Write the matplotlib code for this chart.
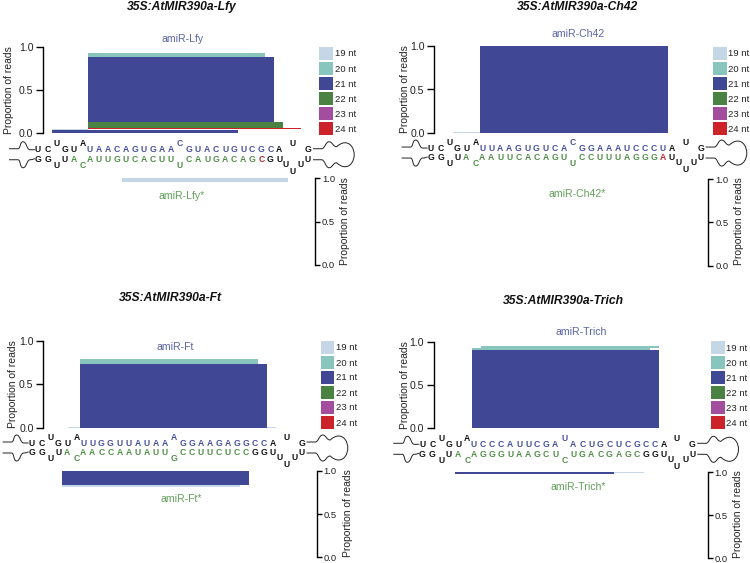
# sirna_profiles.py

import matplotlib
matplotlib.use("Agg")
import matplotlib.pyplot as plt
from matplotlib.patches import Rectangle, PathPatch
from matplotlib.path import Path

plt.rcParams["font.family"] = ["Liberation Sans", "DejaVu Sans"]

W, H = 750, 563
NT_PX = 9.03

SIZES = [19, 20, 21, 22, 23, 24]
SIZE_COLORS = {19: "#c5d6e6", 20: "#88c5bc", 21: "#404896",
               22: "#4a8243", 23: "#a24d9e", 24: "#cc2229"}
TICKS = [0.0, 0.5, 1.0]

BLUE_TXT = "#5a65a8"
GREEN_TXT = "#62a05a"
STEM_BLUE = "#464f9c"
STEM_GREEN = "#4f8f45"
RED_TXT = "#b8252b"

# start position, span in nt, size class, base of stack, proportion of reads
lfy_top_start = [-4, -4, 0, 0, 0, 0, 2.8]
lfy_top_span = [20.6, 4, 23.6, 21.6, 20.6, 19.6, 18]
lfy_top_nt = [21, 19, 24, 22, 21, 20, 19]
lfy_top_base = [0, 0.04, 0.05, 0.06, 0.13, 0.88, 0.925]
lfy_top_prop = [0.04, 0.006, 0.008, 0.07, 0.75, 0.045, 0.008]
lfy_low_start = [3.8]
lfy_low_span = [18.4]
lfy_low_nt = [19]
lfy_low_base = [0]
lfy_low_prop = [0.038]

ch42_top_start = [-3, 0, 20.9]
ch42_top_span = [3, 20.9, 4.8]
ch42_top_nt = [19, 21, 24]
ch42_top_base = [0, 0, 0.998]
ch42_top_prop = [0.003, 1.0, 0.002]
ch42_low_start = [-2]
ch42_low_span = [24.2]
ch42_low_nt = [19]
ch42_low_base = [0]
ch42_low_prop = [0.005]

ft_top_start = [-1.3, 0, 0, 0, 20.7]
ft_top_span = [1.3, 20.7, 19.7, 18.8, 1]
ft_top_nt = [19, 21, 20, 19, 19]
ft_top_base = [0, 0, 0.735, 0.79, 0]
ft_top_prop = [0.006, 0.735, 0.055, 0.008, 0.004]
ft_low_start = [-2, -2, -4.9, 18.7]
ft_low_span = [20.7, 19.7, 2.9, 4]
ft_low_nt = [21, 19, 19, 19]
ft_low_base = [0, 0.16, 0.17, 0]
ft_low_prop = [0.16, 0.03, 0.005, 0.005]

trich_top_start = [-1.9, 0, 0, 1, 20.7]
trich_top_span = [1.9, 20.7, 19.7, 19.7, 3]
trich_top_nt = [19, 21, 20, 20, 19]
trich_top_base = [0, 0, 0.904, 0.93, 0.95]
trich_top_prop = [0.004, 0.904, 0.026, 0.025, 0.004]
trich_low_start = [-1.9, 15.7, -5.3]
trich_low_span = [17.6, 3.3, 3.4]
trich_low_nt = [21, 19, 19]
trich_low_base = [0, 0, 0.02]
trich_low_prop = [0.025, 0.005, 0.005]

# hairpin strands, index 10 is the bulge
lfy_upper = "UAACAGUGAACGUACUGUCGCA"
lfy_lower = "AUUGUCACUUUCAUGACAGCGU"
ch42_upper = "UUAAGUGUCACGGAAAUCCCUA"
ch42_lower = "AAUUCACAGUUCCUUUAGGGAU"
ft_upper = "UUGGUUAUAAAGGAAGAGGCCA"
ft_lower = "AACCAAUAUUGCCUUCUCCGGU"
trich_upper = "UCCCAUUCGAUACUGCUCGCCA"
trich_lower = "AGGGUAAGCUCUGACGAGCGGU"

fig = plt.figure(figsize=(W / 100, H / 100), dpi=100)

canvas = fig.add_axes([0, 0, 1, 1])
canvas.set_xlim(0, W)
canvas.set_ylim(H, 0)
canvas.axis("off")


def px_axes(left, top, right, bottom):
    ax = fig.add_axes([left / W, 1 - bottom / H, (right - left) / W, (bottom - top) / H])
    ax.patch.set_visible(False)
    return ax


def style_axis(ax, label_side):
    for name in ["top", "right", "bottom", "left"]:
        ax.spines[name].set_visible(name == "left")
    ax.spines["left"].set_linewidth(1.0)
    ax.set_xticks([])
    ax.set_ylim(0, 1)
    ax.set_yticks(TICKS)
    ax.set_yticklabels([f"{t:.1f}" for t in TICKS])
    if label_side == "left":
        ax.tick_params(axis="y", direction="out", length=5, width=1.0, pad=2,
                       labelsize=7.6, labelcolor="#222222")
    else:
        ax.tick_params(axis="y", direction="in", length=3.5, width=1.0, pad=-5,
                       labelsize=6.8, labelcolor="#222222")
        for lab in ax.get_yticklabels():
            lab.set_horizontalalignment("left")


def draw_hairpin(x0, y_mid):
    left_top = [(-80.7, -6), (-71.7, -6), (-69, -6), (-70, -13), (-66.7, -13),
                (-63, -13), (-63, -5), (-59.7, -5), (-57, -5), (-56, -5), (-54.7, -5)]
    left_low = [(-80.7, 5), (-71.7, 5), (-69, 5), (-70, 13), (-66.7, 13),
                (-63, 13), (-63, 5), (-59.7, 5), (-57, 5), (-56, 4), (-54.7, 4)]
    right_top = [(223.3, -6), (232, -6), (235, -6), (236, -13), (239.3, -13),
                 (243, -13), (243, -8), (247, -8), (249, -10), (252, -12), (255.3, -12),
                 (261, -12), (264.5, -6), (264.5, 0), (264.5, 6), (261, 12), (255.3, 12),
                 (252, 12), (249, 10), (247, 8), (243, 8), (243, 13), (239.3, 13),
                 (236, 13), (235, 5), (232, 5), (223.3, 5)]
    for pts in [left_top, left_low]:
        codes = [Path.MOVETO, Path.LINETO] + [Path.CURVE4] * 9
        verts = [(x0 + a, y_mid + b) for a, b in pts]
        canvas.add_patch(PathPatch(Path(verts, codes), fill=False, lw=0.7, ec="#222222"))
    codes = [Path.MOVETO, Path.LINETO] + [Path.CURVE4] * 24 + [Path.LINETO]
    verts = [(x0 + a, y_mid + b) for a, b in right_top]
    canvas.add_patch(PathPatch(Path(verts, codes), fill=False, lw=0.7, ec="#222222"))


def seq_letter(x, y, ch, color):
    canvas.text(x, y, ch, color=color, fontsize=6.2, fontweight="bold",
                ha="center", va="center")


def draw_sequence(x0, y_up, y_low, upper, lower, last_green, red_at):
    up_flank = [(-51.7, 0, "U"), (-41.7, 0, "C"), (-32.7, -6, "U"), (-25, 0, "G"),
                (-15.7, 0, "U"), (-6.7, -6, "A"), (203, -6, "U"), (218.3, 0, "G")]
    low_flank = [(-51.7, 0, "G"), (-41.7, 0, "G"), (-32.7, 6, "U"), (-25, 0, "U"),
                 (196.3, 5, "U"), (203, 12, "U"), (211.3, 5, "U"), (218.3, 0, "U")]
    for dx, dy, ch in up_flank:
        seq_letter(x0 + dx, y_up + dy, ch, "#111111")
    for dx, dy, ch in low_flank:
        seq_letter(x0 + dx, y_low + dy, ch, "#111111")
    seq_letter(x0 - 16, y_low, "A", STEM_GREEN)
    seq_letter(x0 - 6.7, y_low + 6, "C", STEM_GREEN)

    for i, ch in enumerate(upper):
        color = "#111111" if i == 21 else STEM_BLUE
        seq_letter(x0 + i * NT_PX, y_up - (6 if i == 10 else 0), ch, color)
    for i, ch in enumerate(lower):
        color = STEM_GREEN if i <= last_green else "#111111"
        if i == red_at:
            color = RED_TXT
        seq_letter(x0 + i * NT_PX, y_low + (6 if i == 10 else 0), ch, color)


def draw_legend(x_sw, x_txt, tops):
    for nt, top in zip(SIZES, tops):
        canvas.add_patch(Rectangle((x_sw, top), 13.5, 13, fc=SIZE_COLORS[nt], ec="none"))
        canvas.text(x_txt, top + 7.3, f"{nt} nt", fontsize=6.8, color="#222222",
                    ha="left", va="center")


def draw_panel(title, title_x, title_y, name, name_x, name_y, star_x, star_y,
               spine_top, y_up, y_low, edge, x0,
               top_data, low_data, upper, lower, last_green, red_at,
               legend_x, legend_txt, legend_tops, ylab_x, low_ylab_x):
    top_ax = px_axes(spine_top[0], spine_top[1], spine_top[0] + 280, spine_top[2])
    style_axis(top_ax, "left")
    top_ax.set_xlim((spine_top[0] - edge) / NT_PX, (spine_top[0] + 280 - edge) / NT_PX)
    start, span, nts, base, prop = top_data
    for s, w, nt, b, p in zip(start, span, nts, base, prop):
        top_ax.bar(s, p, width=w, bottom=b, align="edge", color=SIZE_COLORS[nt],
                   linewidth=0, clip_on=False)

    low_ax = px_axes(spine_top[3], spine_top[4], spine_top[3] + 30, spine_top[5])
    style_axis(low_ax, "right")
    low_ax.set_xlim((spine_top[3] - edge) / NT_PX, (spine_top[3] + 30 - edge) / NT_PX)
    start, span, nts, base, prop = low_data
    for s, w, nt, b, p in zip(start, span, nts, base, prop):
        low_ax.bar(s, -p, width=w, bottom=1 - b, align="edge", color=SIZE_COLORS[nt],
                   linewidth=0, clip_on=False)

    canvas.text(title_x, title_y, title, fontsize=8.7, fontweight="bold", style="italic",
                ha="center", va="center", color="#111111")
    canvas.text(name_x, name_y, name, fontsize=7.6, color=BLUE_TXT, ha="center", va="center")
    canvas.text(star_x, star_y, name + "*", fontsize=7.6, color=GREEN_TXT,
                ha="center", va="center")
    canvas.text(ylab_x, (spine_top[1] + spine_top[2]) / 2, "Proportion of reads", fontsize=7.45,
                rotation=90, ha="center", va="center", color="#222222")
    canvas.text(low_ylab_x, (spine_top[4] + spine_top[5]) / 2 - 1, "Proportion of reads",
                fontsize=7.45, rotation=90, ha="center", va="center", color="#222222")

    draw_hairpin(x0, (y_up + y_low) / 2)
    draw_sequence(x0, y_up, y_low, upper, lower, last_green, red_at)
    draw_legend(legend_x, legend_txt, legend_tops)


draw_panel("35S:AtMIR390a-Lfy", 182, 7, "amiR-Lfy", 183, 38.7, 182, 195.7,
           (43, 46.7, 133.3, 315, 178.3, 265), 150, 159.5, 88, 89.7,
           (lfy_top_start, lfy_top_span, lfy_top_nt, lfy_top_base, lfy_top_prop),
           (lfy_low_start, lfy_low_span, lfy_low_nt, lfy_low_base, lfy_low_prop),
           lfy_upper, lfy_lower, 18, 19,
           319, 335, [46.7, 62, 77, 92, 107, 122], 9.5, 345)

draw_panel("35S:AtMIR390a-Ch42", 578, 7, "amiR-Ch42", 577.7, 34, 576.7, 194,
           (434.3, 46.3, 132.7, 708.3, 179, 265.7), 148.3, 157.8, 479.7, 482.3,
           (ch42_top_start, ch42_top_span, ch42_top_nt, ch42_top_base, ch42_top_prop),
           (ch42_low_start, ch42_low_span, ch42_low_nt, ch42_low_base, ch42_low_prop),
           ch42_upper, ch42_lower, 19, 20,
           713, 728, [46.7, 62, 77, 92, 107, 122], 405, 739)

draw_panel("35S:AtMIR390a-Ft", 170.7, 298, "amiR-Ft", 175, 347, 181, 498.7,
           (43.3, 341, 427.7, 316.7, 471, 557.3), 443.3, 452.7, 80, 83.3,
           (ft_top_start, ft_top_span, ft_top_nt, ft_top_base, ft_top_prop),
           (ft_low_start, ft_low_span, ft_low_nt, ft_low_base, ft_low_prop),
           ft_upper, ft_lower, 18, -1,
           320.7, 336, [340.7, 355.7, 370.7, 385.7, 400.7, 415.7], 13, 347.7)

draw_panel("35S:AtMIR390a-Trich", 563, 301, "amiR-Trich", 580.7, 332, 578.3, 487.3,
           (433.7, 341.7, 428.3, 707.7, 472.3, 558.3), 444.3, 454.3, 472, 474,
           (trich_top_start, trich_top_span, trich_top_nt, trich_top_base, trich_top_prop),
           (trich_low_start, trich_low_span, trich_low_nt, trich_low_base, trich_low_prop),
           trich_upper, trich_lower, 18, -1,
           711, 726.3, [341, 356, 371, 386, 401, 416], 404.5, 738)

fig.savefig("out.png", dpi=100)
